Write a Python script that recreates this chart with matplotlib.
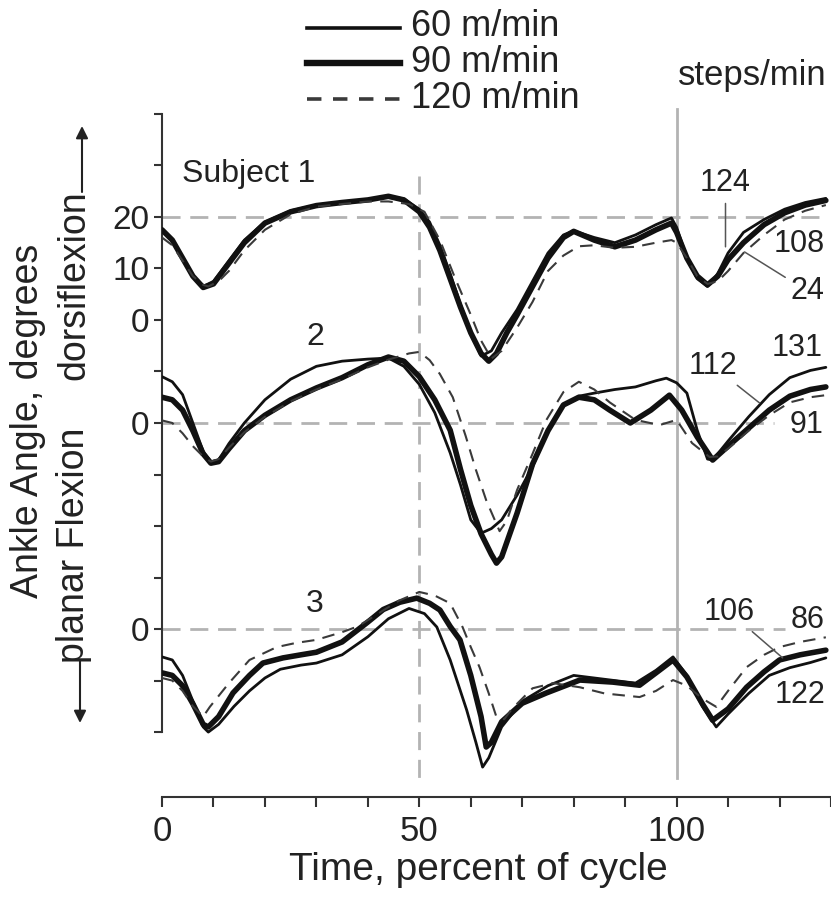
import numpy as np
import matplotlib
matplotlib.use("Agg")
import matplotlib.pyplot as plt
from matplotlib.lines import Line2D

plt.rcParams["font.family"] = ["Liberation Sans", "DejaVu Sans"]

W, H = 831, 899
def fx(px):
    return px / W
def fy(py):
    return 1 - py / H

# ---------------- data (ankle angle, degrees, per subject) ----------------
# each subject is stacked with an offset on one shared axis
subject_offsets = [0, -20, -60]

# subject 1
s1_60_x = [0, 2, 4, 6, 8, 10, 13, 16, 20, 25, 30, 35, 40, 44, 47, 50, 52, 54, 56, 58, 60, 62, 64, 66, 69, 72, 75, 78, 80, 84, 88, 92, 96, 99, 100, 102, 104, 106, 108, 110, 113, 117, 121, 125, 129]
s1_60_y = [17.5, 15.5, 12, 8.5, 6.5, 7.5, 11.5, 15.5, 19, 21.2, 22.3, 22.9, 23.4, 24, 23.5, 21.5, 19, 14.5, 9, 3, -2.5, -7, -6, -2.5, 2, 7.5, 13, 16.5, 17.3, 16, 15, 16.5, 18.5, 19.8, 18, 12, 8, 6.5, 9, 13, 17, 19.5, 21.5, 22.8, 23.6]
s1_90_x = [0, 2, 4, 6, 8, 10, 13, 16, 20, 25, 30, 35, 40, 44, 47, 50, 52, 54, 56, 58, 60, 62, 63.5, 65, 67, 69, 72, 75, 78, 80, 84, 88, 92, 96, 99, 100, 102, 104, 106, 108, 110, 113, 117, 121, 125, 129]
s1_90_y = [17.5, 15.5, 12, 8.5, 6.3, 7, 11, 15, 18.8, 21, 22.2, 22.8, 23.3, 24, 23.3, 21, 18, 13.5, 8, 2.5, -2.5, -6.5, -8, -6.5, -2.5, 1, 6.5, 12, 16, 17.2, 15.5, 14.2, 15.5, 17.5, 18.8, 17, 12, 8.5, 6.8, 8.5, 11.7, 15, 18.5, 20.8, 22.3, 23.2]
s1_120_x = [0, 2, 4, 6, 8, 9, 11, 13, 16, 20, 25, 30, 35, 40, 44, 48, 51, 54, 57, 60, 62, 64, 66, 69, 72, 75, 78, 81, 84, 88, 92, 96, 99, 100, 102, 104, 106, 108, 110, 113, 117, 121, 125, 129]
s1_120_y = [16, 14.5, 11.5, 8.5, 6.8, 6.5, 7.5, 9.5, 13.5, 17.5, 20.5, 22, 22.5, 23, 23, 22.5, 21, 15.5, 8, 1, -4, -7.5, -6, -1.5, 3.5, 9.5, 12.5, 14.3, 14.5, 14, 14.2, 15, 15.5, 15, 12, 8.5, 7, 7.5, 9.5, 13, 16.5, 19.5, 21.2, 22.3]

# subject 2
s2_60_x = [0, 2, 4, 6, 8, 9.5, 11, 13, 16, 20, 25, 30, 35, 40, 44, 47, 50, 53, 56, 58, 60, 62, 64, 66, 69, 72, 75, 78, 81, 84, 88, 92, 96, 98, 100, 102, 104, 106, 107, 110, 114, 118, 122, 126, 129]
s2_60_y = [9, 8, 5.5, 0, -5.5, -7.5, -7.2, -4, 0, 4.5, 8.5, 11, 12, 12.4, 12.6, 11, 7.5, 2, -5.8, -12, -18.8, -21.4, -20.5, -18.8, -14, -8.5, -1.5, 3.5, 5.2, 5.8, 6.5, 7, 8.2, 8.7, 7.8, 5.8, -1.4, -7, -7.2, -3.5, 1.2, 5.5, 8.8, 10.2, 10.8]
s2_90_x = [0, 2, 4, 6, 8, 9.5, 11, 13, 16, 20, 25, 30, 35, 40, 44, 47, 50, 53, 56, 58, 60, 62, 64, 65, 66, 69, 72, 75, 78, 81, 84, 87, 91, 95, 98.6, 101, 104, 107, 110, 114, 118, 122, 126, 129]
s2_90_y = [5, 4.5, 2.5, -1.5, -6, -7.8, -7.5, -5, -1.5, 1.5, 4.5, 6.8, 8.8, 11.3, 12.8, 12, 9, 4.5, -1.4, -9, -16, -21.5, -25.5, -27.2, -26, -17.5, -8, -1.5, 3.5, 5, 4.5, 2.5, 0, 2.5, 5.4, 2.5, -2.7, -7.2, -4.5, -1, 2.5, 5.2, 6.5, 7]
s2_120_x = [0, 2, 4, 6, 8, 9.5, 11, 13, 16, 20, 25, 30, 35, 40, 44, 48, 50, 52, 54, 56.5, 59, 61, 63, 65.6, 67, 69, 72, 74.7, 78, 81, 84, 87, 92, 96.7, 100, 103, 106.4, 108, 110, 114, 118, 122, 126, 129]
s2_120_y = [0.5, 0, -2, -4.5, -6.5, -7.5, -7, -4.8, -1.8, 1.2, 4.2, 6.5, 8.5, 10.8, 12.3, 13.5, 13.8, 12.2, 9.5, 5, -2.5, -9.1, -15, -21, -19, -13, -6, 0.6, 6, 8, 6.5, 4, 0.6, -0.4, 0.6, -3.9, -6.6, -6.5, -5, -1.5, 1.5, 4, 5, 5.4]

# subject 3
s3_60_x = [0, 2, 4, 6, 8, 9, 11, 14, 17, 20, 23, 27, 30, 35, 40, 44, 48, 51, 53.4, 56, 59.2, 61, 62.3, 63.5, 66, 70, 75, 80, 84, 88, 92, 96, 99.3, 102, 105, 107.7, 110, 114, 118, 122, 126, 129]
s3_60_y = [-5.4, -6, -9, -14, -19, -20, -18.5, -15, -12, -9.5, -7.8, -7, -6.6, -5, -1.5, 2, 4, 3, 0.4, -6, -15.7, -22, -26.8, -25, -19, -14, -11, -9, -9.5, -10, -10.5, -8, -5.4, -9, -15, -19, -16.5, -12.5, -9, -7.5, -6.5, -5.6]
s3_90_x = [0, 2, 4, 6, 8, 9, 11, 13.8, 17, 19.6, 23.5, 27, 30, 35, 39.8, 43, 46.2, 49.5, 52, 54, 56, 57.9, 60, 62, 63, 64, 66, 70, 74.7, 81.2, 87.6, 92.8, 96, 99.3, 102, 105, 107, 110, 113.6, 117, 120, 124, 129]
s3_90_y = [-8.5, -9, -11, -14.5, -18.5, -19, -17, -12.4, -9, -6.6, -5.6, -5, -4.5, -2.5, 1.2, 3.8, 5.2, 6, 5, 3.7, 0.5, -2.1, -9, -17, -22.9, -22, -18, -14.4, -12.4, -9.9, -10.3, -10.9, -8.5, -6, -9.3, -14.5, -17.7, -15.5, -11.3, -8.3, -6, -5, -4.1]
s3_120_x = [0, 2, 4, 6, 8, 9.3, 13, 17, 22.3, 26, 30, 35, 38, 42, 46, 50, 53, 56, 58.4, 60, 61.7, 63.5, 65, 66.5, 68, 72, 76, 81.2, 86, 92.8, 96, 99.3, 102, 105, 107.7, 110, 113.6, 117, 120, 124, 129]
s3_120_y = [-9.5, -10, -12, -15, -17, -15.1, -10.5, -6, -3.5, -2.7, -2.1, -0.6, 0.5, 3, 5.5, 7.2, 6.5, 5, 0.4, -3.5, -7.4, -12.5, -17.1, -17.5, -15.5, -11.5, -10.5, -11.3, -12.5, -13.2, -12, -9.9, -11, -13.5, -15.1, -12, -7.4, -5, -3.5, -2.5, -1.6]

speeds = ["60 m/min", "90 m/min", "120 m/min"]
curves = [
    [(s1_60_x, s1_60_y), (s1_90_x, s1_90_y), (s1_120_x, s1_120_y)],
    [(s2_60_x, s2_60_y), (s2_90_x, s2_90_y), (s2_120_x, s2_120_y)],
    [(s3_60_x, s3_60_y), (s3_90_x, s3_90_y), (s3_120_x, s3_120_y)],
]
subject_labels = ["Subject 1", "2", "3"]
# cadence labels (steps/min) beside each subject's curves
cadence_labels = [["124", "108", "24"], ["112", "131", "91"], ["106", "86", "122"]]

# ---------------- styles ----------------
line_styles = [
    dict(color="#111111", lw=2.0),
    dict(color="#111111", lw=4.0),
    dict(color="#3a3a3a", lw=1.5, dashes=(6, 4)),
]
ref_color = "#b3b3b3"

fig = plt.figure(figsize=(W / 100, H / 100), dpi=100)
ax = fig.add_axes([fx(162), fy(797), fx(831) - fx(162), fy(84) - fy(797)])
ax.set_xlim(0, 130)
ax.set_ylim(-92.6, 45.8)

# reference lines
ax.plot([0, 129], [20, 20], color=ref_color, lw=2, dashes=(6.5, 3.5), zorder=1)
ax.plot([0, 119], [-20, -20], color=ref_color, lw=2, dashes=(6.5, 3.5), zorder=1)
ax.plot([0, 121], [-60, -60], color=ref_color, lw=2, dashes=(6.5, 3.5), zorder=1)
ax.plot([50, 50], [28, -90], color=ref_color, lw=2, dashes=(6.5, 3.5), zorder=1)
ax.plot([100, 100], [41, -89], color=ref_color, lw=2, zorder=1)

for off, subj in zip(subject_offsets, curves):
    for (xs, ys), st in zip(subj, line_styles):
        ax.plot(xs, np.array(ys) + off, zorder=3, solid_joinstyle="round",
                solid_capstyle="round", **st)

# subject labels
ax.text(3.9, 28.3, subject_labels[0], fontsize=23, ha="left", va="center", color="#222222")
ax.text(29.7, -3.3, subject_labels[1], fontsize=23, ha="center", va="center", color="#222222")
ax.text(29.7, -55.1, subject_labels[2], fontsize=23, ha="center", va="center", color="#222222")

lead = dict(arrowstyle="-", color="#555555", lw=1.1, shrinkA=2, shrinkB=0)
tk = dict(fontsize=22, ha="center", va="center", color="#222222")
# subject 1
ax.annotate(cadence_labels[0][0], xy=(109.5, 14.2), xytext=(109.5, 26.6), arrowprops=lead, **tk)
ax.text(123.9, 14.8, cadence_labels[0][1], **tk)
ax.annotate(cadence_labels[0][2], xy=(113.2, 13.2), xytext=(125.4, 5.6), arrowprops=lead, **tk)
# subject 2
ax.annotate(cadence_labels[1][0], xy=(116.1, -16.1), xytext=(107, -8.9), arrowprops=lead, **tk)
ax.text(123.5, -5.4, cadence_labels[1][1], **tk)
ax.text(125.2, -20.4, cadence_labels[1][2], **tk)
# subject 3
ax.annotate(cadence_labels[2][0], xy=(120.6, -65.6), xytext=(110.3, -56.7), arrowprops=lead, **tk)
ax.text(125.4, -58.3, cadence_labels[2][1], **tk)
ax.text(123.9, -72.8, cadence_labels[2][2], **tk)

# axes
for s in ["top", "right"]:
    ax.spines[s].set_visible(False)
ax.spines["left"].set_bounds(-80, 40)
ax.spines["bottom"].set_bounds(0, 130)
for s in ["left", "bottom"]:
    ax.spines[s].set_linewidth(1.5)
    ax.spines[s].set_color("#333333")

yticks = list(range(-80, 41, 10))
ylabels = {20: "20", 10: "10", 0: "0", -20: "0", -60: "0"}
ax.set_yticks(yticks)
ax.set_yticklabels([ylabels.get(t, "") for t in yticks])
xticks = list(range(0, 131, 10))
ax.set_xticks(xticks)
ax.set_xticklabels([str(t) if t in (0, 50, 100) else "" for t in xticks])
ax.tick_params(axis="y", direction="out", length=6, width=1.5, color="#333333",
               labelsize=24, pad=3, labelcolor="#222222")
ax.tick_params(axis="x", direction="out", length=7, width=1.5, color="#333333",
               labelsize=25, pad=6, labelcolor="#222222")

fig.text(fx(478), fy(870), "Time, percent of cycle", fontsize=28,
         ha="center", va="center", color="#222222")

# y label pieces with direction arrows
fig.text(fx(28), fy(421), "Ankle Angle, degrees", rotation=90, fontsize=27,
         ha="center", va="center", color="#222222")
fig.text(fx(74), fy(545), "planar Flexion", rotation=90, fontsize=27,
         ha="center", va="center", color="#222222")
fig.text(fx(74), fy(285), "dorsiflexion", rotation=90, fontsize=27,
         ha="center", va="center", color="#222222")
arr = dict(arrowstyle="-|>", color="#222222", lw=1.5, mutation_scale=18, shrinkA=0, shrinkB=0)
ax.annotate("", xy=(fx(82), fy(126)), xytext=(fx(82), fy(192)), xycoords="figure fraction",
            textcoords="figure fraction", arrowprops=arr, annotation_clip=False)
ax.annotate("", xy=(fx(80), fy(723)), xytext=(fx(80), fy(660)), xycoords="figure fraction",
            textcoords="figure fraction", arrowprops=arr, annotation_clip=False)

# legend drawn at top
leg_rows = [28, 63, 99]
for py, st, lab in zip(leg_rows, line_styles, speeds):
    kw = dict(st)
    if "dashes" in kw:
        kw["lw"] = 2.6
        kw["dashes"] = (4, 3.2)
    elif kw["lw"] < 3:
        kw["lw"] = 2.6
    else:
        kw["lw"] = 4.6
    fig.add_artist(Line2D([fx(307), fx(400)], [fy(py), fy(py)], transform=fig.transFigure, **kw))
    fig.text(fx(411), fy(py - 1), lab, fontsize=26, ha="left", va="center", color="#222222")
fig.text(fx(827), fy(75), "steps/min", fontsize=25, ha="right", va="center", color="#222222")

fig.savefig("out.png", dpi=100)
